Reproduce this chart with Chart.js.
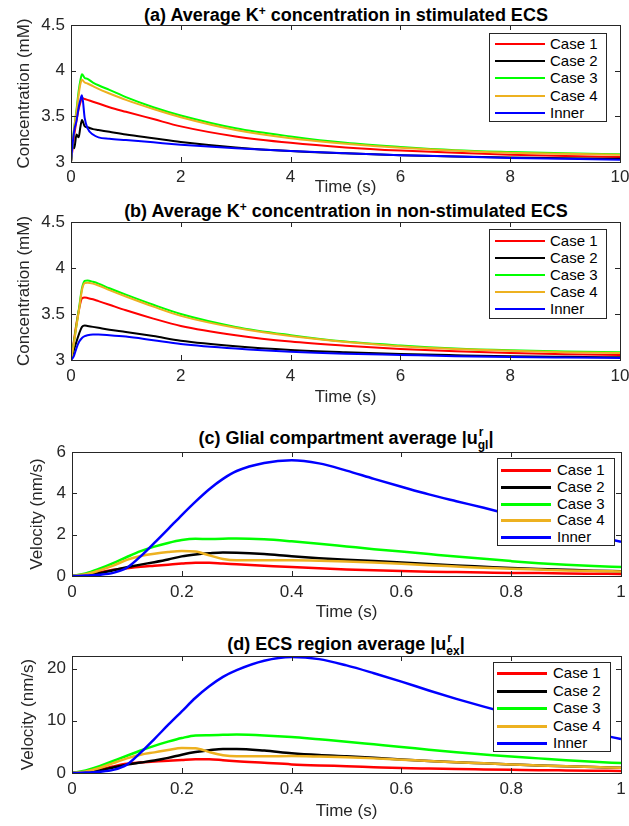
<!DOCTYPE html>
<html><head><meta charset="utf-8">
<script src="https://cdn.jsdelivr.net/npm/chart.js@4.4.0/dist/chart.umd.min.js"></script>
<style>
body{margin:0;background:#fff;width:629px;height:826px;position:relative;overflow:hidden;font-family:"Liberation Sans",Arial,sans-serif;}
canvas{position:absolute;left:0;}
.title{position:absolute;left:71px;width:550px;text-align:center;font-weight:bold;font-size:18px;color:#000;white-space:nowrap;line-height:20px;height:20px;}
.title sup{font-size:12px;vertical-align:6px;line-height:0;}
.su{display:inline-block;position:relative;font-size:12px;line-height:12px;}
.su .sb{position:relative;top:5px;}
.su .sp{position:absolute;left:1px;top:-8px;}
.legend{position:absolute;background:#fff;border:1px solid #262626;box-sizing:border-box;}
.lline{position:absolute;}
.ltext{position:absolute;font-size:15px;color:#000;line-height:16px;white-space:nowrap;}
</style>
</head><body>
<div class="title" id="tA" style="top:5px">(a) Average K<sup>+</sup> concentration in stimulated ECS</div>
<div class="title" id="tB" style="top:201px">(b) Average K<sup>+</sup> concentration in non-stimulated ECS</div>
<div class="title" id="tC" style="top:428px">(c) Glial compartment average |u<span class="su"><span class="sb">gl</span><span class="sp">r</span></span>|</div>
<div class="title" id="tD" style="top:634px">(d) ECS region average |u<span class="su"><span class="sb">ex</span><span class="sp">r</span></span>|</div>
<canvas id="cA" width="629" height="200" style="top:0px"></canvas>
<canvas id="cB" width="629" height="210" style="top:200px"></canvas>
<canvas id="cC" width="629" height="215" style="top:410px"></canvas>
<canvas id="cD" width="629" height="201" style="top:625px"></canvas>
<script>
const seriesNames = ["Case 1","Case 2","Case 3","Case 4","Inner"];
const seriesColors = ["#ff0000","#000000","#00ff00","#edb120","#0000ff"];

// (a) stimulated ECS
const timeA = [0,0.03,0.06,0.1,0.14,0.17,0.2,0.25,0.3,0.4,0.5,0.7,1,1.5,2,3,4,5,6,7,8,9,10];
const case1A = [3.0,3.15,3.3,3.45,3.58,3.65,3.70,3.69,3.68,3.66,3.64,3.60,3.55,3.47,3.39,3.28,3.21,3.16,3.125,3.10,3.08,3.065,3.055];
const case2A = [3.0,3.2,3.15,3.3,3.27,3.38,3.46,3.39,3.38,3.36,3.35,3.33,3.30,3.26,3.22,3.16,3.12,3.095,3.075,3.06,3.048,3.04,3.035];
const case3A = [3.0,3.22,3.38,3.57,3.78,3.89,3.96,3.92,3.91,3.87,3.84,3.79,3.71,3.60,3.51,3.37,3.28,3.21,3.165,3.13,3.11,3.095,3.085];
const case4A = [3.0,3.2,3.38,3.55,3.74,3.85,3.90,3.87,3.86,3.83,3.80,3.75,3.68,3.58,3.49,3.35,3.26,3.20,3.155,3.125,3.10,3.09,3.08];
const innerA = [3.0,3.2,3.35,3.45,3.6,3.68,3.73,3.48,3.37,3.30,3.27,3.255,3.24,3.215,3.19,3.15,3.12,3.095,3.075,3.06,3.045,3.035,3.025];

// (b) non-stimulated ECS
const timeB = [0,0.05,0.1,0.15,0.2,0.25,0.3,0.4,0.5,0.7,1,1.5,2,3,4,5,6,7,8,9,10];
const case1B = [3.0,3.2,3.4,3.56,3.67,3.68,3.675,3.66,3.64,3.60,3.54,3.45,3.37,3.27,3.20,3.155,3.12,3.095,3.076,3.063,3.055];
const case2B = [3.0,3.1,3.2,3.29,3.36,3.375,3.37,3.36,3.35,3.33,3.305,3.26,3.21,3.15,3.11,3.085,3.066,3.052,3.04,3.034,3.03];
const case3B = [3.0,3.18,3.38,3.58,3.78,3.86,3.865,3.85,3.83,3.78,3.71,3.60,3.50,3.36,3.27,3.20,3.157,3.125,3.105,3.092,3.085];
const case4B = [3.0,3.17,3.37,3.56,3.76,3.835,3.84,3.83,3.81,3.76,3.69,3.58,3.48,3.35,3.26,3.195,3.15,3.12,3.10,3.085,3.076];
const innerB = [3.0,3.04,3.13,3.2,3.24,3.26,3.27,3.277,3.277,3.27,3.255,3.215,3.175,3.125,3.09,3.068,3.055,3.042,3.033,3.027,3.022];

// (c) glial compartment velocity, (d) ECS velocity
const timeCD = [0,0.025,0.05,0.075,0.1,0.125,0.15,0.175,0.2,0.225,0.25,0.275,0.3,0.35,0.4,0.45,0.5,0.55,0.6,0.65,0.7,0.75,0.8,0.85,0.9,0.95,1];
const case1C = [0,0.06,0.18,0.3,0.38,0.45,0.5,0.55,0.6,0.64,0.64,0.6,0.57,0.5,0.43,0.37,0.32,0.28,0.24,0.21,0.19,0.17,0.15,0.14,0.12,0.11,0.1];
const case2C = [0,0.04,0.14,0.28,0.42,0.55,0.67,0.8,0.95,1.04,1.1,1.14,1.13,1.06,0.95,0.86,0.79,0.72,0.65,0.58,0.51,0.45,0.39,0.34,0.3,0.26,0.23];
const case3C = [0,0.12,0.35,0.62,0.92,1.2,1.42,1.6,1.74,1.8,1.79,1.8,1.82,1.78,1.68,1.56,1.43,1.3,1.18,1.06,0.94,0.83,0.72,0.62,0.54,0.48,0.44];
const case4C = [0,0.08,0.27,0.5,0.78,0.97,1.08,1.16,1.21,1.18,1.0,0.82,0.76,0.76,0.76,0.74,0.70,0.65,0.59,0.52,0.46,0.40,0.35,0.31,0.27,0.24,0.22];
const innerC = [0,0.02,0.06,0.15,0.4,0.95,1.6,2.27,2.95,3.6,4.2,4.7,5.08,5.47,5.6,5.45,5.1,4.7,4.32,3.95,3.62,3.3,2.96,2.62,2.29,1.96,1.65];
const case1D = [0,0.25,0.65,1.25,1.75,2.0,2.2,2.35,2.5,2.62,2.62,2.45,2.25,1.95,1.65,1.45,1.3,1.12,0.95,0.85,0.76,0.69,0.62,0.55,0.5,0.45,0.4];
const case2D = [0,0.15,0.5,1.05,1.6,2.0,2.4,2.9,3.5,4.0,4.35,4.6,4.6,4.3,3.8,3.45,3.2,2.9,2.6,2.3,2.05,1.85,1.65,1.45,1.3,1.15,1.0];
const case3D = [0,0.5,1.3,2.3,3.3,4.3,5.2,6.0,6.7,7.2,7.25,7.3,7.35,7.2,6.9,6.45,6.0,5.5,5.0,4.45,3.95,3.55,3.15,2.8,2.45,2.15,1.9];
const case4D = [0,0.3,0.95,1.9,2.8,3.5,3.95,4.4,4.8,4.75,4.0,3.4,3.2,3.2,3.25,3.15,3.0,2.8,2.55,2.3,2.05,1.85,1.65,1.45,1.3,1.15,1.0];
const innerD = [0,0.08,0.25,0.6,1.6,3.9,6.5,9.2,11.8,14.4,16.6,18.4,19.7,21.5,22.2,21.8,20.6,19.1,17.5,15.8,14.2,12.7,11.3,10.0,8.8,7.6,6.5];

// tick values
const xTicksAB = [0,2,4,6,8,10];
const yTicksAB = [3,3.5,4,4.5];
const xTicksCD = [0,0.2,0.4,0.6,0.8,1];
const yTicksC = [0,2,4,6];
const yTicksD = [0,10,20];

const AXIS = '#262626';
const tickFont = {family:'"Liberation Sans", Arial, sans-serif', size:17};

const boxTicks = {
  id:'boxTicks',
  afterDatasetsDraw(chart){
    const {ctx, chartArea:a, scales:{x,y}} = chart;
    ctx.save();
    ctx.strokeStyle = AXIS; ctx.lineWidth = 1;
    ctx.beginPath();
    const L = 5;
    x.ticks.forEach(t=>{const px=Math.round(x.getPixelForValue(t.value))+0.5;
      ctx.moveTo(px,a.bottom); ctx.lineTo(px,a.bottom-L); ctx.moveTo(px,a.top); ctx.lineTo(px,a.top+L);});
    y.ticks.forEach(t=>{const py=Math.round(y.getPixelForValue(t.value))+0.5;
      ctx.moveTo(a.left,py); ctx.lineTo(a.left+L,py); ctx.moveTo(a.right,py); ctx.lineTo(a.right-L,py);});
    ctx.stroke();
    ctx.strokeRect(Math.round(a.left)+0.5, Math.round(a.top)+0.5, Math.round(a.right-a.left), Math.round(a.bottom-a.top));
    ctx.restore();
  }
};

function fmt(v){ return String(+v.toFixed(3)); }

function makePanel(p){
  const series = p.series;
  const datasets = series.map((vals,i)=>({
    label: seriesNames[i],
    data: p.time.map((t,k)=>({x:t,y:vals[k]})),
    borderColor: seriesColors[i], backgroundColor: seriesColors[i],
    borderWidth: p.lw, pointRadius:0, fill:false,
    cubicInterpolationMode:'monotone', order: 5-i
  }));
  new Chart(document.getElementById(p.id), {
    type:'line',
    data:{datasets},
    options:{
      responsive:false, animation:false, devicePixelRatio:1,
      layout:{padding:{top:p.plotTop, right:629-p.plotRight, left:0, bottom:0}},
      plugins:{legend:{display:false}, tooltip:{enabled:false}},
      scales:{
        x:{type:'linear', min:p.xMin, max:p.xMax,
          afterBuildTicks(s){ s.ticks = p.xTicks.map(v=>({value:v})); },
          afterFit(s){ s.height = p.canvasH - p.plotBottom; s.paddingLeft=0; s.paddingRight=0; },
          grid:{display:false, drawTicks:false}, border:{display:false},
          ticks:{color:AXIS, font:tickFont, padding:p.xTickPad, maxRotation:0, autoSkip:false, callback:v=>fmt(v)},
          title:{display:true, text:'Time (s)', color:AXIS, font:{family:tickFont.family,size:17}, padding:{top:0,bottom:p.xTitlePad}}
        },
        y:{type:'linear', min:p.yMin, max:p.yMax,
          afterBuildTicks(s){ s.ticks = p.yTicks.map(v=>({value:v})); },
          afterFit(s){ s.width = p.plotLeft; s.paddingTop=0; s.paddingBottom=0; },
          grid:{display:false, drawTicks:false}, border:{display:false},
          ticks:{color:AXIS, font:tickFont, padding:6, autoSkip:false, callback:v=>fmt(v)},
          title:{display:true, text:p.yTitle, color:AXIS, font:{family:tickFont.family,size:17}, padding:{top:p.yTitlePad,bottom:0}}
        }
      }
    },
    plugins:[boxTicks]
  });
}

function makeLegend(g){
  const d = document.createElement('div');
  d.className='legend';
  d.style.left=g.left+'px'; d.style.top=g.top+'px'; d.style.width=(g.right-g.left)+'px'; d.style.height=(g.bottom-g.top)+'px';
  seriesNames.forEach((n,i)=>{
    const cy = Math.round(g.row0 - g.top + i*g.step);
    const ln = document.createElement('div'); ln.className='lline';
    ln.style.left=(g.lineL-g.left-1)+'px'; ln.style.width=(g.lineR-g.lineL)+'px';
    ln.style.height=g.lw+'px'; ln.style.top=(cy-Math.floor(g.lw/2)-1)+'px';
    ln.style.background=seriesColors[i];
    const tx = document.createElement('div'); tx.className='ltext'; tx.textContent=n;
    tx.style.left=(g.textL-g.left-1)+'px'; tx.style.top=(cy-9)+'px';
    d.appendChild(ln); d.appendChild(tx);
  });
  document.body.appendChild(d);
}

makePanel({id:'cA', time:timeA, series:[case1A,case2A,case3A,case4A,innerA], lw:2,
  canvasH:200, plotTop:25, plotBottom:162, plotLeft:71, plotRight:620,
  xMin:0,xMax:10,yMin:3,yMax:4.5,xTicks:xTicksAB,yTicks:yTicksAB,
  yTitle:'Concentration (mM)', yTitlePad:14, xTickPad:5, xTitlePad:2});
makePanel({id:'cB', time:timeB, series:[case1B,case2B,case3B,case4B,innerB], lw:2,
  canvasH:210, plotTop:22, plotBottom:160, plotLeft:71, plotRight:620,
  xMin:0,xMax:10,yMin:3,yMax:4.5,xTicks:xTicksAB,yTicks:yTicksAB,
  yTitle:'Concentration (mM)', yTitlePad:14, xTickPad:6, xTitlePad:2});
makePanel({id:'cC', time:timeCD, series:[case1C,case2C,case3C,case4C,innerC], lw:2.5,
  canvasH:215, plotTop:42, plotBottom:166, plotLeft:72, plotRight:621,
  xMin:0,xMax:1,yMin:0,yMax:6,xTicks:xTicksCD,yTicks:yTicksC,
  yTitle:'Velocity (nm/s)', yTitlePad:27, xTickPad:6, xTitlePad:2});
makePanel({id:'cD', time:timeCD, series:[case1D,case2D,case3D,case4D,innerD], lw:2.5,
  canvasH:201, plotTop:31, plotBottom:148, plotLeft:72, plotRight:621,
  xMin:0,xMax:1,yMin:0,yMax:22.4,xTicks:xTicksCD,yTicks:yTicksD,
  yTitle:'Velocity (nm/s)', yTitlePad:18, xTickPad:6, xTitlePad:4});

makeLegend({left:489,right:607,top:33,bottom:122,row0:44,step:17.2,lineL:495,lineR:545,textL:550,lw:2});
makeLegend({left:489,right:607,top:229,bottom:319,row0:240.5,step:17.2,lineL:495,lineR:545,textL:550,lw:2});
makeLegend({left:497,right:615,top:458,bottom:546,row0:470,step:16.8,lineL:501,lineR:551,textL:557,lw:3});
makeLegend({left:493,right:611,top:662,bottom:752,row0:673,step:17.5,lineL:497,lineR:547,textL:553,lw:3});
</script>
</body></html>
